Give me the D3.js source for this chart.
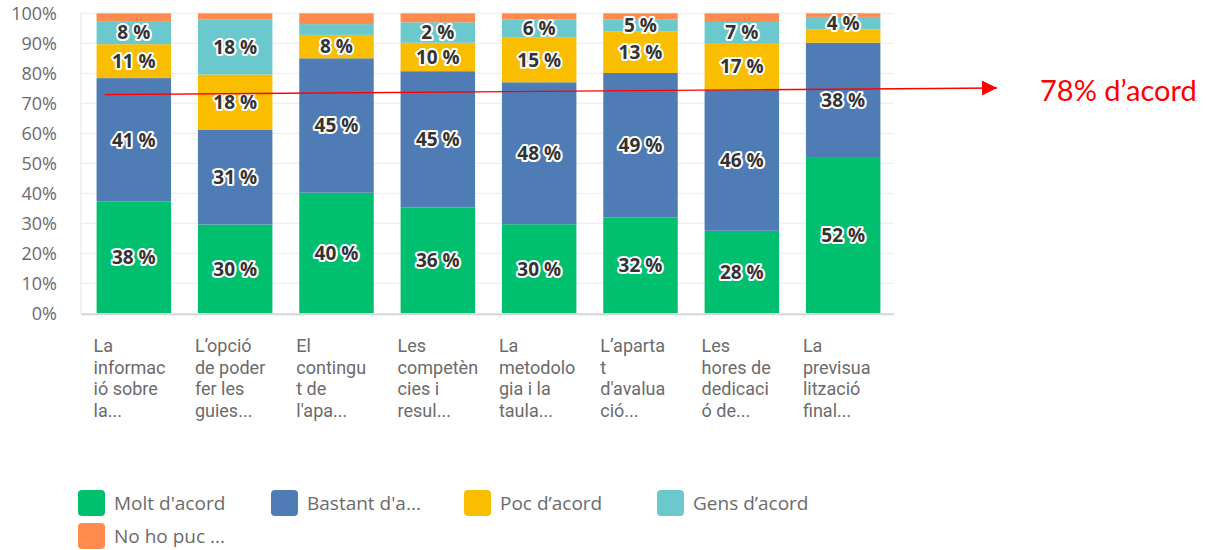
<!DOCTYPE html>
<html>
<head>
<meta charset="utf-8">
<script src="https://cdn.jsdelivr.net/npm/d3@7"></script>
<style>
  body { margin: 0; background: #fff; }
  svg { display: block; }
</style>
</head>
<body>
<div id="chart"></div>
<script>
// questions (x axis labels, already wrapped and truncated as in the survey export)
const categories = [
  ['La', 'informac', 'ió sobre', 'la...'],
  ['L\u2019opció', 'de poder', 'fer les', 'guies...'],
  ['El', 'contingu', 't de', 'l\'apa...'],
  ['Les', 'competèn', 'cies i', 'resul...'],
  ['La', 'metodolo', 'gia i la', 'taula...'],
  ['L\u2019aparta', 't', 'd\'avalua', 'ció...'],
  ['Les', 'hores de', 'dedicaci', 'ó de...'],
  ['La', 'previsua', 'lització', 'final...']
];

const seriesNames = ['Molt d\'acord', 'Bastant d\'a...', 'Poc d\u2019acord', 'Gens d\u2019acord', 'No ho puc ...'];
const seriesColors = ['#00bf6f', '#507cb6', '#f9be00', '#6bc8cd', '#ff8b4f'];

// segment heights (percent)
const molt    = [37.3, 29.6, 40.2, 35.3, 29.7, 31.9, 27.5, 51.8];
const bastant = [41.1, 31.5, 44.8, 45.4, 47.3, 48.2, 47.0, 38.4];
const poc     = [11.3, 18.5, 7.8, 9.5, 14.9, 13.8, 15.6, 4.4];
const gens    = [7.7, 18.3, 3.6, 6.8, 6.0, 4.0, 7.0, 4.2];
const noHoPuc = [2.6, 2.1, 3.6, 3.0, 2.1, 2.1, 2.9, 1.2];

// data labels as printed on the bars (null = no label)
const moltLabels    = [38, 30, 40, 36, 30, 32, 28, 52];
const bastantLabels = [41, 31, 45, 45, 48, 49, 46, 38];
const pocLabels     = [11, 18, 8, 10, 15, 13, 17, null];
const gensLabels    = [8, 18, null, 2, 6, 5, 7, 4];
const noHoPucLabels = [null, null, null, null, null, null, null, null];

const yTicks = [0, 10, 20, 30, 40, 50, 60, 70, 80, 90, 100];

// red annotation
const annotationText = '78% d\u2019acord';
const arrowStartPct = 72.9;
const arrowEndPct = 75.1;

const width = 1207;
const height = 550;
const plot = { left: 81, right: 894, top: 13.3, bottom: 313.3 };

const keys = ['molt', 'bastant', 'poc', 'gens', 'noHoPuc'];
const valueArrays = [molt, bastant, poc, gens, noHoPuc];
const labelArrays = [moltLabels, bastantLabels, pocLabels, gensLabels, noHoPucLabels];

const rows = categories.map((c, i) => {
  const row = { idx: i };
  keys.forEach((k, j) => { row[k] = valueArrays[j][i]; });
  return row;
});

const svg = d3.select('#chart').append('svg')
  .attr('width', width)
  .attr('height', height);

const x = d3.scaleBand()
  .domain(d3.range(categories.length))
  .range([plot.left + 1, plot.right + 1])
  .paddingInner(0.265)
  .paddingOuter(0.144);

const y = d3.scaleLinear()
  .domain([0, 100])
  .range([plot.bottom, plot.top]);

// grid
svg.append('g')
  .selectAll('line')
  .data(yTicks.slice(1))
  .enter().append('line')
  .attr('x1', plot.left)
  .attr('x2', plot.right)
  .attr('y1', d => y(d))
  .attr('y2', d => y(d))
  .attr('stroke', '#ebebeb')
  .attr('stroke-width', 1);

// left axis line
svg.append('line')
  .attr('x1', plot.left).attr('x2', plot.left)
  .attr('y1', plot.top).attr('y2', plot.bottom)
  .attr('stroke', '#e3e3e3');

// y labels
const yAxis = d3.axisLeft(y)
  .tickValues(yTicks)
  .tickFormat(d => d + '%')
  .tickSize(0)
  .tickPadding(0);

const yg = svg.append('g')
  .attr('transform', 'translate(57,0)')
  .call(yAxis);
yg.select('.domain').remove();
yg.selectAll('text')
  .attr('fill', '#6b6b6b')
  .style('font-family', '"Open Sans", sans-serif')
  .style('font-size', '18px');

// bars
const stack = d3.stack().keys(keys);
const stacked = stack(rows);

const layers = svg.append('g')
  .selectAll('g')
  .data(stacked)
  .enter().append('g')
  .attr('fill', (d, i) => seriesColors[i]);

layers.selectAll('rect')
  .data(d => d)
  .enter().append('rect')
  .attr('x', d => x(d.data.idx))
  .attr('y', d => y(d[1]))
  .attr('width', x.bandwidth())
  .attr('height', d => y(d[0]) - y(d[1]));

// bottom axis line
svg.append('line')
  .attr('x1', plot.left).attr('x2', plot.right)
  .attr('y1', plot.bottom + 1).attr('y2', plot.bottom + 1)
  .attr('stroke', '#d6d6d6')
  .attr('stroke-width', 2);

// data labels
const labelData = [];
stacked.forEach((layer, s) => {
  layer.forEach((d, i) => {
    const lab = labelArrays[s][i];
    if (lab !== null) labelData.push({ d, lab });
  });
});

svg.append('g')
  .selectAll('text')
  .data(labelData)
  .enter().append('text')
  .attr('x', o => x(o.d.data.idx) + x.bandwidth() / 2)
  .attr('y', o => (y(o.d[0]) + y(o.d[1])) / 2)
  .attr('dy', '0.36em')
  .attr('text-anchor', 'middle')
  .attr('fill', '#333')
  .attr('stroke', '#fff')
  .attr('stroke-width', 4)
  .attr('stroke-linejoin', 'round')
  .attr('paint-order', 'stroke')
  .style('font-family', '"Open Sans", sans-serif')
  .style('font-weight', '700')
  .style('font-size', '19px')
  .text(o => o.lab + ' %');

// x labels
const xl = svg.append('g')
  .selectAll('text')
  .data(categories)
  .enter().append('text')
  .attr('x', (d, i) => x(i) - 3)
  .attr('y', 352)
  .attr('fill', '#6b6b6b')
  .style('font-family', 'Roboto, sans-serif')
  .style('font-size', '18px');

xl.selectAll('tspan')
  .data(d => d)
  .enter().append('tspan')
  .attr('x', function () { return d3.select(this.parentNode).attr('x'); })
  .attr('dy', (d, i) => i === 0 ? 0 : 21.5)
  .text(d => d);

// legend
const legend = svg.append('g')
  .selectAll('g')
  .data(seriesNames)
  .enter().append('g')
  .attr('transform', (d, i) => `translate(${78 + (i % 4) * 193},${490 + Math.floor(i / 4) * 33})`);

legend.append('rect')
  .attr('width', 27)
  .attr('height', 26)
  .attr('rx', 4)
  .attr('fill', (d, i) => seriesColors[i]);

legend.append('text')
  .attr('x', 36)
  .attr('y', 13)
  .attr('dy', '0.35em')
  .attr('fill', '#6b6b6b')
  .style('font-family', '"Open Sans", sans-serif')
  .style('font-size', '19px')
  .text(d => d);

// annotation arrow + text
const ax1 = x(0) + 8;
const ax2 = 997;
svg.append('defs').append('marker')
  .attr('id', 'arrow')
  .attr('viewBox', '0 0 10 10')
  .attr('refX', 10)
  .attr('refY', 5)
  .attr('markerUnits', 'userSpaceOnUse')
  .attr('markerWidth', 16)
  .attr('markerHeight', 15)
  .attr('orient', 'auto')
  .append('path')
  .attr('d', 'M0,0 L10,5 L0,10 Z')
  .attr('fill', '#ff0000');

svg.append('line')
  .attr('x1', ax1).attr('y1', y(arrowStartPct))
  .attr('x2', ax2).attr('y2', y(arrowEndPct))
  .attr('stroke', '#ff0000')
  .attr('stroke-width', 1.3)
  .attr('marker-end', 'url(#arrow)');

svg.append('text')
  .attr('x', 1040)
  .attr('y', 101)
  .attr('fill', '#ff0000')
  .style('font-family', 'Lato, sans-serif')
  .style('font-size', '29px')
  .text(annotationText);
</script>
</body>
</html>
